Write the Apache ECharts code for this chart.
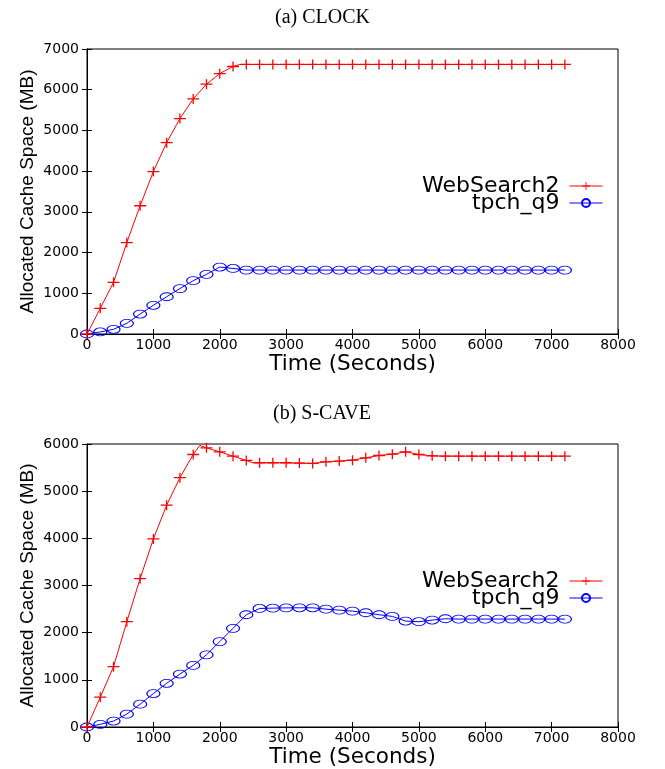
<!DOCTYPE html>
<html>
<head>
<meta charset="utf-8">
<script src="https://cdn.jsdelivr.net/npm/echarts@6/dist/echarts.min.js"></script>
<style>
html,body{margin:0;padding:0;background:#fff;}
#c{width:665px;height:769px;}
</style>
</head>
<body>
<div id="c"></div>
<script>
// ---- data ----
var timeX = [0,200,400,600,800,1000,1200,1400,1600,1800,2000,2200,2400,2600,2800,3000,3200,3400,3600,3800,4000,4200,4400,4600,4800,5000,5200,5400,5600,5800,6000,6200,6400,6600,6800,7000,7200];
var clockWeb = [0,630,1270,2245,3150,3990,4700,5290,5775,6135,6395,6570,6620,6620,6620,6620,6620,6620,6620,6620,6620,6620,6620,6620,6620,6620,6620,6620,6620,6620,6620,6620,6620,6620,6620,6620,6620];
var clockTpch = [0,50,115,262,490,705,915,1115,1310,1465,1645,1610,1570,1570,1570,1570,1570,1570,1570,1570,1570,1570,1570,1570,1570,1570,1570,1570,1570,1570,1570,1570,1570,1570,1570,1570,1570];
var scaveWeb = [0,632,1280,2232,3145,3987,4703,5285,5777,5918,5834,5742,5651,5602,5602,5602,5595,5588,5623,5637,5658,5707,5756,5784,5834,5777,5749,5742,5742,5742,5742,5742,5742,5742,5742,5742,5742];
var scaveTpch = [0,56,126,274,484,709,927,1123,1306,1530,1811,2092,2380,2513,2520,2525,2527,2527,2499,2478,2457,2422,2380,2345,2246,2232,2267,2295,2288,2288,2288,2288,2288,2288,2288,2288,2288];
// unmarked line knots (where the drawn line bends between markers)
var clockWebKnotX = [2300];
var clockWebKnotY = [6620];
var scaveWebKnotX = [1700, 2500];
var scaveWebKnotY = [5970, 5602];
var xTicks = [0,1000,2000,3000,4000,5000,6000,7000,8000];
var clockYTicks = [0,1000,2000,3000,4000,5000,6000,7000];
var scaveYTicks = [0,1000,2000,3000,4000,5000,6000];
var seriesNames = ['WebSearch2','tpch_q9'];
var panelTitles = ['(a) CLOCK','(b) S-CAVE'];

function build(xs, ys, kx, ky){
  var pts = xs.map(function(x,i){ return {value:[x, ys[i]]}; });
  (kx||[]).forEach(function(x,i){ pts.push({value:[x, ky[i]], symbol:'none'}); });
  pts.sort(function(a,b){ return a.value[0]-b.value[0]; });
  return pts;
}

var SANS = 'DejaVu Sans';
var plusPath = 'path://M0,4.35H12V5.65H0Z M5.35,0H6.65V10H5.35Z';
var RED = '#ff0000', BLUE = '#0000ff';
function plain(v){ return String(v); }

function xAxes(gi){
  var base = {gridIndex:gi, type:'value', min:xTicks[0], max:xTicks[xTicks.length-1], interval:xTicks[1]-xTicks[0],
    splitLine:{show:false}, axisLine:{show:true, lineStyle:{color:'#000', width:1}},
    axisTick:{show:true, inside:true, length:5, lineStyle:{color:'#000'}}};
  var bottom = Object.assign({}, base, {position:'bottom',
    axisLabel:{color:'#000', fontSize:14, fontFamily:SANS, margin:4, formatter:plain},
    name:'Time (Seconds)', nameLocation:'middle', nameGap:19,
    nameTextStyle:{color:'#000', fontSize:21.5, fontFamily:SANS}});
  var top = Object.assign({}, base, {position:'top', axisLabel:{show:false}});
  return [bottom, top];
}
function yAxes(gi, ticks){
  var base = {gridIndex:gi, type:'value', min:ticks[0], max:ticks[ticks.length-1], interval:ticks[1]-ticks[0],
    splitLine:{show:false}, axisLine:{show:true, lineStyle:{color:'#000', width:1}},
    axisTick:{show:true, inside:true, length:5, lineStyle:{color:'#000'}}};
  var left = Object.assign({}, base, {position:'left',
    axisLabel:{color:'#000', fontSize:14, fontFamily:SANS, margin:8, formatter:plain},
    name:'Allocated Cache Space (MB)', nameLocation:'middle', nameGap:50, nameRotate:90, nameMoveOverlap:false,
    nameTextStyle:{color:'#000', fontSize:19, fontFamily:'Liberation Sans'}});
  var right = Object.assign({}, base, {position:'right', axisLabel:{show:false}});
  return [left, right];
}

function webSeries(xi, yi, data){
  return {name:seriesNames[0], type:'line', xAxisIndex:xi, yAxisIndex:yi, data:data,
    symbol:plusPath, symbolSize:[12,10], showAllSymbol:true,
    lineStyle:{color:RED, width:1}, itemStyle:{color:RED}, z:3};
}
function tpchSeries(xi, yi, data){
  return {name:seriesNames[1], type:'line', xAxisIndex:xi, yAxisIndex:yi, data:data,
    symbol:'circle', symbolSize:[13,8], showAllSymbol:true,
    lineStyle:{color:BLUE, width:1}, itemStyle:{color:'rgba(0,0,0,0)', borderColor:BLUE, borderWidth:1}, z:2};
}
function legendItem(name, top){
  return {data:[name], right:62, top:top, align:'right', orient:'vertical',
    itemWidth:33, itemHeight:10, padding:0,
    lineStyle:{width:1},
    textStyle:{color:'#000', fontSize:22, fontFamily:SANS, lineHeight:17, padding:[0,5,0,0]}};
}

var chart = echarts.init(document.getElementById('c'), null, {renderer:'canvas'});
chart.setOption({
  animation:false,
  backgroundColor:'#fff',
  title:[
    {text:panelTitles[0], left:270, top:3, textStyle:{fontFamily:'Liberation Serif', fontWeight:'normal', fontSize:20, color:'#000'}},
    {text:panelTitles[1], left:268, top:399, textStyle:{fontFamily:'Liberation Serif', fontWeight:'normal', fontSize:20, color:'#000'}}
  ],
  legend:[legendItem(seriesNames[0],175), legendItem(seriesNames[1],192),
          legendItem(seriesNames[0],570), legendItem(seriesNames[1],587)],
  grid:[
    {left:87, right:47, top:49, height:285, show:true, borderColor:'#000', borderWidth:1},
    {left:87, right:47, top:444, height:285, show:true, borderColor:'#000', borderWidth:1}
  ],
  xAxis: xAxes(0).concat(xAxes(1)),
  yAxis: yAxes(0, clockYTicks).concat(yAxes(1, scaveYTicks)),
  series:[
    webSeries(0,0, build(timeX, clockWeb, clockWebKnotX, clockWebKnotY)),
    tpchSeries(0,0, build(timeX, clockTpch)),
    webSeries(2,2, build(timeX, scaveWeb, scaveWebKnotX, scaveWebKnotY)),
    tpchSeries(2,2, build(timeX, scaveTpch))
  ]
});
</script>
</body>
</html>
